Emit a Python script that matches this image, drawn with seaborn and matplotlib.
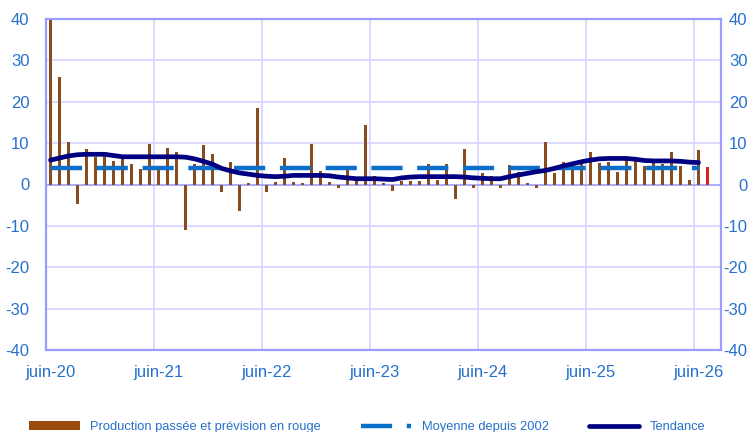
import numpy as np
import pandas as pd
import matplotlib
matplotlib.use("Agg")
import matplotlib.pyplot as plt
import seaborn as sns
from matplotlib.patches import Patch
from matplotlib.lines import Line2D

# Monthly categories juin-20 .. août-26 (the last one stays empty)
mois = pd.period_range("2020-06", "2026-08", freq="M").strftime("%Y-%m").tolist()

# Production passée (juin-20 .. juin-26), then the forecast in red (juil-26)
production = [40.0, 26.0, 10.2, -4.7, 8.5, 6.7, 7.9, 5.7, 6.5, 5.0, 3.7, 9.9,
              3.5, 8.9, 7.9, -10.9, 5.0, 9.6, 7.3, -1.8, 5.5, -6.4, 0.4, 18.5,
              -1.8, 0.7, 6.3, 0.7, 0.4, 9.8, 3.3, 0.7, -0.8, 3.7, 1.0, 14.3,
              2.0, 0.4, -1.5, 0.8, 0.8, 0.8, 4.9, 1.0, 5.0, -3.4, 8.5, -0.8,
              2.7, 2.0, -0.8, 4.6, 3.0, 0.25, -0.8, 10.2, 2.7, 5.5, 4.5, 4.9,
              7.9, 5.3, 5.5, 3.0, 6.6, 5.7, 4.5, 5.7, 5.0, 7.9, 4.5, 1.0, 8.3]
prevision = [4.2]

tendance = [5.9, 6.4, 6.9, 7.2, 7.3, 7.3, 7.3, 7.0, 6.7, 6.7, 6.7, 6.7,
            6.7, 6.7, 6.7, 6.6, 6.2, 5.6, 4.9, 3.9, 3.3, 2.8, 2.5, 2.2,
            2.0, 1.9, 2.0, 2.2, 2.2, 2.2, 2.2, 2.1, 1.8, 1.6, 1.4, 1.4,
            1.4, 1.3, 1.2, 1.6, 1.8, 1.9, 1.9, 1.9, 1.9, 1.9, 1.8, 1.6,
            1.5, 1.4, 1.4, 1.9, 2.3, 2.7, 3.1, 3.4, 3.9, 4.5, 5.0, 5.5,
            5.9, 6.2, 6.3, 6.3, 6.3, 6.1, 5.8, 5.7, 5.7, 5.7, 5.6, 5.4, 5.3]

moyenne = 4.0

tick_labels = ["juin-20", "juin-21", "juin-22", "juin-23", "juin-24", "juin-25", "juin-26"]

brown = "#9A4A0C"
red = "#FF0000"
blue_mean = "#0A6FC9"
navy = "#000080"
txt_blue = "#2670CC"
grid_col = "#D4D4FF"
spine_col = "#9C9CFF"

n_obs = len(production)
df = pd.DataFrame({
    "mois": mois[:n_obs + len(prevision)],
    "valeur": production + prevision,
    "type": ["passee"] * n_obs + ["prevision"] * len(prevision),
})

sns.set_style("white")
plt.rcParams["font.family"] = ["Liberation Sans", "DejaVu Sans"]
plt.rcParams["axes.unicode_minus"] = False

fig = plt.figure(figsize=(7.48, 4.32), dpi=100)
ax = fig.add_axes([46 / 748, 1 - 350 / 432, 675 / 748, 331 / 432])

sns.barplot(data=df, x="mois", y="valeur", hue="type", order=mois,
            palette={"passee": brown, "prevision": red}, dodge=False,
            width=0.42, errorbar=None, legend=False, ax=ax, zorder=2,
            linewidth=0)

pos = np.arange(len(tendance))
ax.hlines(moyenne, pos[0], pos[-1], color=blue_mean, lw=3.2,
          linestyles=(0, (7.0, 3.3)), zorder=3)
sns.lineplot(x=pos, y=tendance, color=navy, lw=3.4, ax=ax, zorder=4)

ax.set_xlim(-0.5, len(mois) - 0.5)
ax.set_ylim(-40, 40)
yt = np.arange(-40, 41, 10)
ax.set_yticks(yt)
ax.set_yticklabels([str(v) for v in yt])
ax.set_xticks([mois.index(m) for m in mois if m.endswith("-06")])
ax.set_xticklabels(tick_labels)
ax.set_xticks([mois.index(m) - 0.5 for m in mois if m.endswith("-06")][1:], minor=True)
ax.set_xlabel("")
ax.set_ylabel("")

ax.grid(False)
ax.grid(axis="x", which="minor", color=grid_col, lw=1.2, zorder=0)
for v in yt[1:-1]:
    if v != 0:
        ax.axhline(v, color=grid_col, lw=1.2, zorder=0)
ax.axhline(0, color=spine_col, lw=1.2, zorder=1)

ax.tick_params(axis="both", which="both", length=0, labelsize=12, labelcolor=txt_blue)
ax.tick_params(axis="y", pad=12)
ax.tick_params(axis="x", pad=11)
for s in ax.spines.values():
    s.set_color(spine_col)
    s.set_linewidth(1.6)

ax2 = ax.twinx()
ax2.set_ylim(-40, 40)
ax2.set_yticks(yt)
ax2.set_yticklabels([str(v) for v in yt], ha="right")
ax2.tick_params(axis="y", length=0, labelsize=12, labelcolor=txt_blue, pad=19)
for s in ax2.spines.values():
    s.set_visible(False)

handles = [
    Patch(facecolor=brown, edgecolor="none"),
    Line2D([], [], color=blue_mean, lw=3.2, linestyle=(0, (7.0, 3.3))),
    Line2D([], [], color=navy, lw=3.4),
]
labels = ["Production passée et prévision en rouge", "Moyenne depuis 2002", "Tendance"]
leg = fig.legend(handles, labels, loc="lower center", bbox_to_anchor=(0.491, -0.03),
                 ncol=3, frameon=False, fontsize=9.3, handlelength=3.9,
                 handletextpad=0.8, columnspacing=3.1)
for t in leg.get_texts():
    t.set_color(txt_blue)

fig.savefig("out.png", dpi=100)
